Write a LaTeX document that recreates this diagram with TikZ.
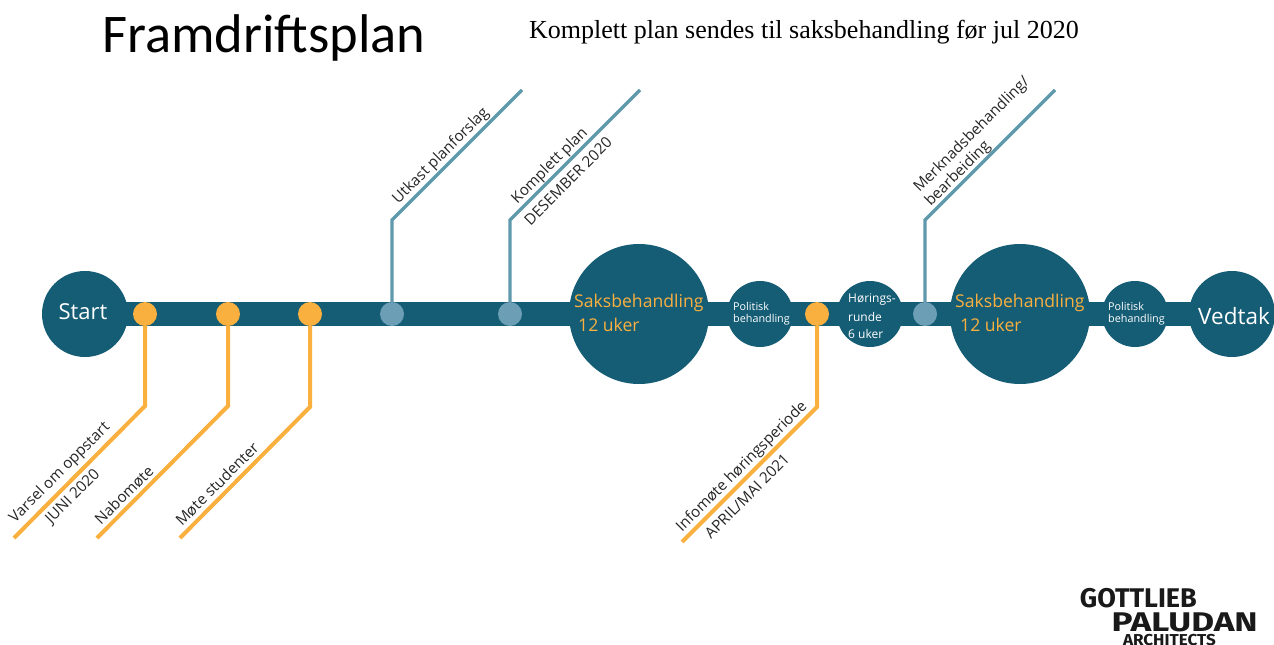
\documentclass[tikz,border=0pt]{standalone}
\usepackage{fontspec}
\setmainfont{Open Sans}
\newfontfamily\titlefont{Carlito}
\newfontfamily\subfont{Liberation Serif}
\newfontfamily\logofont{Fira Sans}
\definecolor{teal}{HTML}{155C75}
\definecolor{amber}{HTML}{F9B03F}
\definecolor{steel}{HTML}{6C9FB5}
\definecolor{steelline}{HTML}{6098AC}
\tikzset{
  hub/.style={circle,fill=teal,inner sep=0pt,minimum size=#1},
  amberdot/.style={circle,fill=amber,inner sep=0pt,minimum size=24pt},
  steeldot/.style={circle,fill=steel,inner sep=0pt,minimum size=24pt},
  amberline/.style={draw=amber,line width=4pt,line join=miter},
  steelconn/.style={draw=steelline,line width=3.4pt,line join=miter},
  lab/.style={text=black!85,font=\fontsize{15.2}{16}\selectfont,rotate=45,inner sep=0pt,align=left},
  whitetext/.style={text=white,inner sep=0pt,align=left},
  ambertext/.style={text=amber,inner sep=0pt,align=left,font=\fontsize{17.6}{24}\selectfont},
  smalltext/.style={text=white,inner sep=0pt,align=left,font=\fontsize{10.8}{14}\selectfont},
  hortext/.style={text=white,inner sep=0pt,align=left,font=\fontsize{12}{14}\selectfont},
  logotext/.style={text=black!90,inner sep=0pt,anchor=base east}
}
\begin{document}
\begin{tikzpicture}[x=1pt,y=-1pt]
\useasboundingbox (0,0) rectangle (1274,645);
\clip (0,0) rectangle (1274,645);
% hubs
\node[hub=86pt] (start) at (85,314) {};
\node[hub=140pt] (sak1) at (639,314) {};
\node[hub=66pt] (pol1) at (760,314) {};
\node[hub=66pt] (hor) at (870,314) {};
\node[hub=140pt] (sak2) at (1020,314) {};
\node[hub=66pt] (pol2) at (1135,314) {};
\node[hub=86pt] (ved) at (1232,314) {};
\draw[teal,line width=24pt] (start.center) -- (ved.center);
% connectors
\coordinate (b1) at (145,406); \coordinate (e1) at (14,538);
\coordinate (b2) at (228,406); \coordinate (e2) at (97,538);
\coordinate (b3) at (310,407); \coordinate (e3) at (180,538);
\coordinate (b4) at (817,407); \coordinate (e4) at (682,542);
\coordinate (t1) at (392,220); \coordinate (f1) at (522,90);
\coordinate (t2) at (510,220); \coordinate (f2) at (640,90);
\coordinate (t3) at (925,220); \coordinate (f3) at (1055,90);
\node[amberdot] (a1) at (145,314) {};
\node[amberdot] (a2) at (228,314) {};
\node[amberdot] (a3) at (310,314) {};
\node[amberdot] (a4) at (817,314) {};
\node[steeldot] (s1) at (392,314) {};
\node[steeldot] (s2) at (510,314) {};
\node[steeldot] (s3) at (925,314) {};
\draw[amberline] (a1.south) -- (b1) -- (e1);
\draw[amberline] (a2.south) -- (b2) -- (e2);
\draw[amberline] (a3.south) -- (b3) -- (e3);
\draw[amberline] (a4.south) -- (b4) -- (e4);
\draw[steelconn] (s1.north) -- (t1) -- (f1);
\draw[steelconn] (s2.north) -- (t2) -- (f2);
\draw[steelconn] (s3.north) -- (t3) -- (f3);
% hub texts
\node[whitetext,font=\fontsize{22}{24}\selectfont] (tstart) at (83,312) {Start};
\node[whitetext,font=\fontsize{22.5}{24}\selectfont] (tved) at (1234,316) {Vedtak};
\node[ambertext,anchor=west] (ts1) at (574,303) {Saksbehandling};
\node[ambertext,anchor=west] (ts1b) at (578,325) {12 uker};
\node[ambertext,anchor=west] (ts2) at (955,303) {Saksbehandling};
\node[ambertext,anchor=west] (ts2b) at (960,325) {12 uker};
\node[smalltext,anchor=west] (tp1a) at (733,306) {Politisk};
\node[smalltext,anchor=west] (tp1b) at (733,320) {behandling};
\node[smalltext,anchor=west] (tp2a) at (1108,306) {Politisk};
\node[smalltext,anchor=west] (tp2b) at (1108,320) {behandling};
\node[hortext,anchor=west] (th1) at (848,300) {Hørings-};
\node[hortext,anchor=west] (th2) at (848,317) {runde};
\node[hortext,anchor=west] (th3) at (848,334) {6 uker};
% diagonal labels
\node[lab] (l1) at (60,473) {Varsel om oppstart};
\node[lab] (l1b) at (73,497) {JUNI 2020};
\node[lab] (l2) at (124,495) {Nabomøte};
\node[lab] (l3) at (217,484) {Møte studenter};
\node[lab] (l4) at (742,467) {Infomøte høringsperiode};
\node[lab] (l4b) at (747,496) {APRIL/MAI 2021};
\node[lab] (l5) at (441,156) {Utkast planforslag};
\node[lab] (l6) at (550,166) {Komplett plan};
\node[lab] (l6b) at (568,181) {DESEMBER 2020};
\node[lab] (l7) at (972,135) {Merknadsbehandling/};
\node[lab] (l7b) at (958,174) {bearbeiding};
% heading
\node[anchor=base west,inner sep=0pt,font=\titlefont\fontsize{54.5}{56}\selectfont] (title) at (102,52) {Framdriftsplan};
\node[anchor=base west,inner sep=0pt,font=\subfont\fontsize{26}{28}\selectfont] (sub) at (529,38) {Komplett plan sendes til saksbehandling før jul 2020};
% logo
\node[logotext,font=\logofont\bfseries\fontsize{27}{28}\selectfont] (g) at (1197,607) {GOTTLIEB};
\node[logotext,xscale=1.3,font=\logofont\bfseries\fontsize{27}{28}\selectfont] (p) at (1258,631) {PALUDAN};
\node[logotext,xscale=1.08,font=\logofont\bfseries\fontsize{15.8}{18}\selectfont] (ar) at (1216,645) {ARCHITECTS};
\end{tikzpicture}
\end{document}
